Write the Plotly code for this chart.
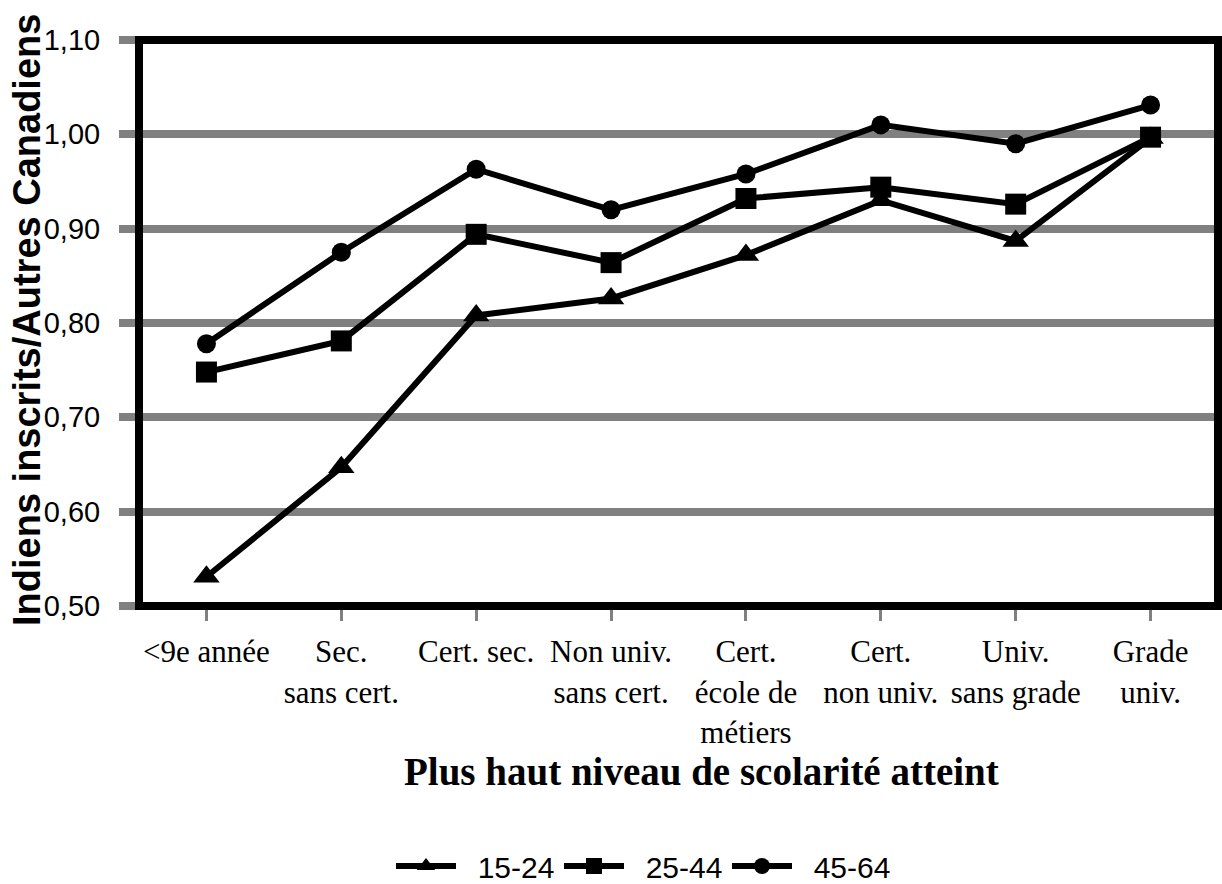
import plotly.graph_objects as go

categories = ["<9e année", "Sec.<br>sans cert.", "Cert. sec.", "Non univ.<br>sans cert.",
              "Cert.<br>école de<br>métiers", "Cert.<br>non univ.", "Univ.<br>sans grade", "Grade<br>univ."]
series_names = ["15-24", "25-44", "45-64"]
vals_15_24 = [0.531, 0.647, 0.808, 0.826, 0.872, 0.930, 0.887, 0.996]
vals_25_44 = [0.748, 0.781, 0.894, 0.864, 0.932, 0.944, 0.926, 0.997]
vals_45_64 = [0.778, 0.875, 0.963, 0.920, 0.958, 1.010, 0.990, 1.031]
y_ticks = [0.5, 0.6, 0.7, 0.8, 0.9, 1.0, 1.1]
x_title = "Plus haut niveau de scolarité atteint"
y_title = "Indiens inscrits/Autres Canadiens"

W, H = 1222, 884
L, R, T, B = 139, 4, 40, 278
pw, ph = W - L - R, H - T - B

x_idx = list(range(len(categories)))
symbols = ["triangle-up", "square", "circle"]
sizes = [23, 21, 19]
fig = go.Figure()
for name, vals, sym, sz in zip(series_names, [vals_15_24, vals_25_44, vals_45_64], symbols, sizes):
    fig.add_trace(go.Scatter(
        x=x_idx, y=vals, name="\u00a0\u00a0" + name, mode="lines+markers",
        line=dict(color="black", width=6),
        marker=dict(symbol=sym, size=sz, color="black"),
        cliponaxis=False,
    ))

fig.update_layout(
    width=W, height=H,
    margin=dict(l=L, r=R, t=T, b=B, pad=0, autoexpand=False),
    paper_bgcolor="white", plot_bgcolor="white",
    separators=", ",
    showlegend=True,
    legend=dict(orientation="h", xref="container", yref="container",
                x=391 / W, xanchor="left",
                y=(H - 866) / H, yanchor="middle",
                font=dict(family="Liberation Sans", size=30, color="black"),
                itemwidth=60, entrywidth=93, traceorder="normal"),
    xaxis=dict(
        range=[-0.5, 7.5], tickmode="array", tickvals=x_idx, ticktext=categories,
        showline=False, showgrid=False, zeroline=False, automargin=False,
        ticks="outside", ticklen=14, tickwidth=3, tickcolor="#808080",
        tickfont=dict(family="Liberation Serif", size=31, color="black"),
        ticklabelstandoff=4,
    ),
    yaxis=dict(
        range=[0.5, 1.1], tickmode="array", tickvals=y_ticks, tickformat=".2f",
        showline=False, showgrid=True, gridcolor="#808080", gridwidth=8,
        zeroline=False, automargin=False,
        ticks="outside", ticklen=19, tickwidth=8, tickcolor="#808080",
        tickfont=dict(family="Liberation Sans", size=29, color="black"),
        ticklabelstandoff=13,
    ),
    shapes=[dict(type="rect", xref="paper", yref="paper", x0=0, x1=1, y0=0, y1=1,
                 line=dict(color="black", width=8), fillcolor="rgba(0,0,0,0)", layer="above")],
    annotations=[
        dict(text="<b>" + x_title + "</b>", xref="paper", yref="paper",
             x=(701 - L) / pw, y=(H - B - 771) / ph, xanchor="center", yanchor="middle",
             showarrow=False, font=dict(family="Liberation Serif", size=39, color="black")),
        dict(text="<b>" + y_title + "</b>", xref="paper", yref="paper", textangle=-90,
             x=(27 - L) / pw, y=(H - B - 320) / ph, xanchor="center", yanchor="middle",
             showarrow=False, font=dict(family="Liberation Sans", size=38, color="black")),
    ],
)

fig.write_html("out.html", config={"displayModeBar": False},
               post_script="document.body.style.margin='0';")
